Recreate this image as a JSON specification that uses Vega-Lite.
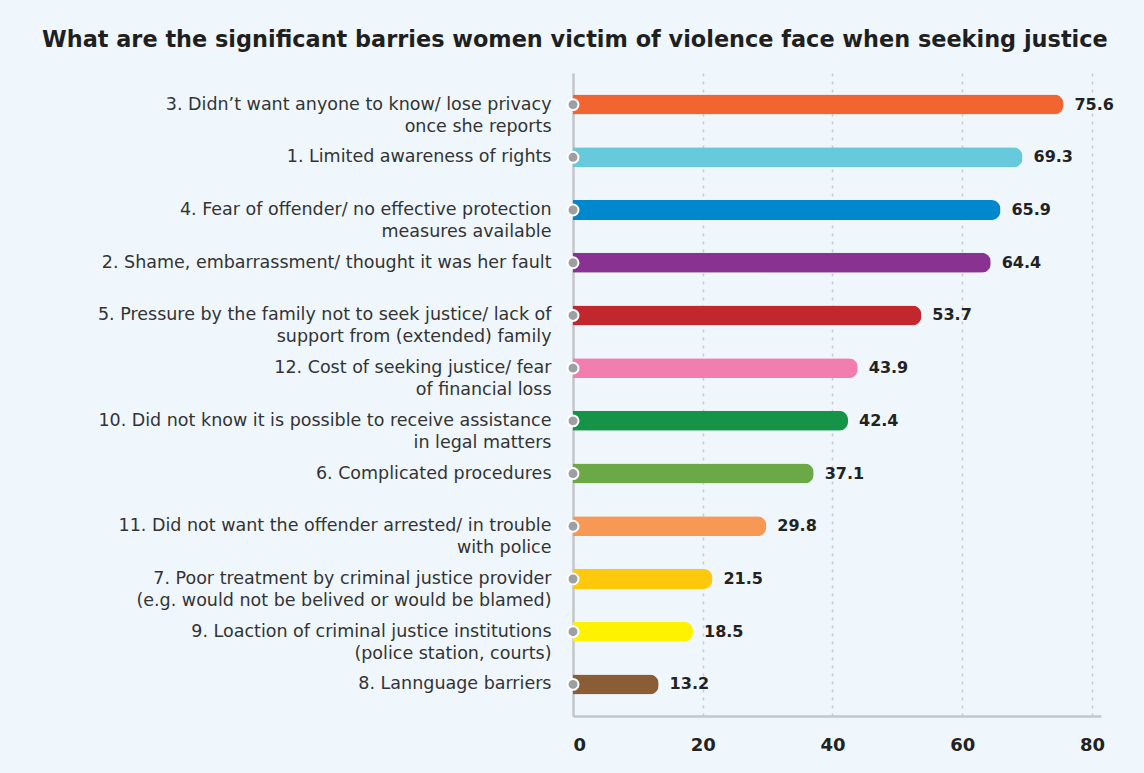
{
  "$schema": "https://vega.github.io/schema/vega-lite/v6.json",
  "width": 528,
  "height": 643,
  "autosize": {"type": "none"},
  "padding": {"left": 573, "top": 73, "right": 43, "bottom": 57},
  "background": "#eff7fd",
  "title": {
    "text": "What are the significant barries women victim of violence face when seeking justice",
    "anchor": "start",
    "frame": "group",
    "dx": -531,
    "offset": 22,
    "font": "DejaVu Sans",
    "fontSize": 22.4,
    "fontWeight": "bold",
    "color": "#1f1f1f"
  },
  "data": {
    "values": [
      {"label": "3. Didn’t want anyone to know/ lose privacy|once she reports", "value": 75.6, "color": "#f26531"},
      {"label": "1. Limited awareness of rights", "value": 69.3, "color": "#66c9dc"},
      {"label": "4. Fear of offender/ no effective protection|measures available", "value": 65.9, "color": "#0088ce"},
      {"label": "2. Shame, embarrassment/ thought it was her fault", "value": 64.4, "color": "#8a3292"},
      {"label": "5. Pressure by the family not to seek justice/ lack of|support from (extended) family", "value": 53.7, "color": "#c1272d"},
      {"label": "12. Cost of seeking justice/ fear|of financial loss", "value": 43.9, "color": "#f27daf"},
      {"label": "10. Did not know it is possible to receive assistance|in legal matters", "value": 42.4, "color": "#159447"},
      {"label": "6. Complicated procedures", "value": 37.1, "color": "#6aa945"},
      {"label": "11. Did not want the offender arrested/ in trouble|with police", "value": 29.8, "color": "#f79955"},
      {"label": "7. Poor treatment by criminal justice provider|(e.g. would not be belived or would be blamed)", "value": 21.5, "color": "#fec80d"},
      {"label": "9. Loaction of criminal justice institutions|(police station, courts)", "value": 18.5, "color": "#fff200"},
      {"label": "8. Lannguage barriers", "value": 13.2, "color": "#8a5d35"}
    ]
  },
  "encoding": {
    "y": {
      "field": "label",
      "type": "nominal",
      "sort": null,
      "scale": {"paddingOuter": 0.1, "paddingInner": 0},
      "axis": {
        "title": null,
        "ticks": false,
        "labelExpr": "split(datum.label, '|')",
        "labelFont": "DejaVu Sans",
        "labelFontSize": 17.5,
        "labelColor": "#333333",
        "labelLineHeight": 22,
        "labelPadding": 22,
        "labelLimit": 700,
        "domainColor": "#c4c7ca",
        "domainWidth": 2.5,
        "grid": false
      }
    }
  },
  "layer": [
    {
      "mark": {"type": "bar", "height": 20, "cornerRadiusEnd": 9},
      "encoding": {
        "x": {
          "field": "value",
          "type": "quantitative",
          "scale": {"domain": [0, 81.4], "nice": false},
          "axis": {
            "title": null,
            "values": [0, 20, 40, 60, 80],
            "ticks": false,
            "labelFont": "DejaVu Sans",
            "labelFontSize": 18,
            "labelFontWeight": "bold",
            "labelColor": "#222222",
            "labelPadding": 20,
            "domainColor": "#c4c7ca",
            "domainWidth": 2.5,
            "grid": true,
            "gridColor": "#c8cbce",
            "gridDash": [3, 5],
            "gridWidth": 1.5
          }
        },
        "color": {"field": "color", "type": "nominal", "scale": null}
      }
    },
    {
      "mark": {"type": "point", "filled": true, "size": 120, "color": "#9d9fa2", "stroke": "#ffffff", "strokeWidth": 2, "opacity": 1},
      "encoding": {
        "x": {"datum": 0, "type": "quantitative"}
      }
    },
    {
      "mark": {"type": "text", "align": "left", "dx": 11, "font": "DejaVu Sans", "fontSize": 16, "fontWeight": "bold", "color": "#222222"},
      "encoding": {
        "x": {"field": "value", "type": "quantitative"},
        "text": {"field": "value", "type": "quantitative", "format": ".1f"}
      }
    }
  ],
  "config": {
    "view": {"stroke": null}
  }
}
